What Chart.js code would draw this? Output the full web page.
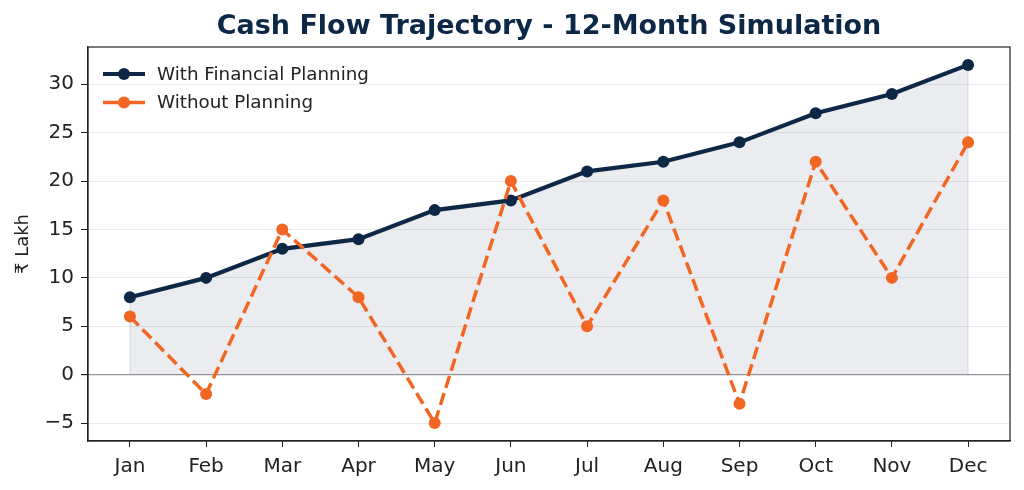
<!DOCTYPE html>
<html>
<head>
<meta charset="utf-8">
<script src="https://cdn.jsdelivr.net/npm/chart.js@4"></script>
<style>
  html, body { margin: 0; padding: 0; background: #fff; }
  #wrap { width: 1024px; height: 490px; position: relative; }
</style>
</head>
<body>
<div id="wrap"><canvas id="cashflow"></canvas></div>
<script>
const months = ['Jan', 'Feb', 'Mar', 'Apr', 'May', 'Jun', 'Jul', 'Aug', 'Sep', 'Oct', 'Nov', 'Dec'];
const withPlanning = [8, 10, 13, 14, 17, 18, 21, 22, 24, 27, 29, 32];
const withoutPlanning = [6, -2, 15, 8, -5, 20, 5, 18, -3, 22, 10, 24];
const yTicks = [-5, 0, 5, 10, 15, 20, 25, 30];

const NAVY = '#0d2847';
const ORANGE = '#f26624';
const FONT = "'DejaVu Sans', sans-serif";

function toPoints(arr) {
    return arr.map((v, i) => ({ x: i, y: v }));
}

// title, box around the plot, fill edges and the legend (matplotlib style)
const decorPlugin = {
    id: 'decor',
    beforeDatasetsDraw(chart) {
        // faint vertical edges of the shaded area at first and last month
        const ctx = chart.ctx;
        const xs = chart.scales.x, ys = chart.scales.y;
        const last = withPlanning.length - 1;
        ctx.save();
        ctx.strokeStyle = 'rgba(13, 40, 71, 0.09)';
        ctx.lineWidth = 1.5;
        [[0, withPlanning[0]], [last, withPlanning[last]]].forEach(([i, v]) => {
            ctx.beginPath();
            ctx.moveTo(xs.getPixelForValue(i), ys.getPixelForValue(0));
            ctx.lineTo(xs.getPixelForValue(i), ys.getPixelForValue(v));
            ctx.stroke();
        });
        ctx.restore();
    },
    afterDraw(chart) {
        const ctx = chart.ctx;
        const a = chart.chartArea;
        ctx.save();
        ctx.strokeStyle = '#222';
        ctx.lineWidth = 1.2;
        ctx.strokeRect(a.left, a.top, a.right - a.left, a.bottom - a.top);

        ctx.fillStyle = NAVY;
        ctx.font = 'bold 27px ' + FONT;
        ctx.textAlign = 'center';
        ctx.textBaseline = 'middle';
        ctx.fillText('Cash Flow Trajectory - 12-Month Simulation', (a.left + a.right) / 2, 27);

        const items = [
            { label: 'With Financial Planning', color: NAVY, width: 4.2 },
            { label: 'Without Planning', color: ORANGE, width: 3.5 }
        ];
        ctx.font = '18.3px ' + FONT;
        ctx.textAlign = 'left';
        items.forEach((it, i) => {
            const y = 74 + i * 28.5;
            ctx.strokeStyle = it.color;
            ctx.lineWidth = it.width;
            ctx.beginPath();
            ctx.moveTo(103, y);
            ctx.lineTo(145, y);
            ctx.stroke();
            ctx.fillStyle = it.color;
            ctx.beginPath();
            ctx.arc(124, y, 6, 0, Math.PI * 2);
            ctx.fill();
            ctx.fillStyle = '#222';
            ctx.fillText(it.label, 157, y + 1);
        });
        ctx.restore();
    }
};

new Chart(document.getElementById('cashflow'), {
    type: 'line',
    data: {
        datasets: [
            {
                label: 'With Financial Planning',
                data: toPoints(withPlanning),
                borderColor: NAVY,
                backgroundColor: 'rgba(13, 40, 71, 0.085)',
                fill: 'origin',
                borderWidth: 4.2,
                pointRadius: 6,
                pointBackgroundColor: NAVY,
                pointBorderWidth: 0,
                tension: 0,
                order: 1
            },
            {
                label: 'Without Planning',
                data: toPoints(withoutPlanning),
                borderColor: ORANGE,
                borderDash: [12.5, 5.5],
                fill: false,
                borderWidth: 3.5,
                pointRadius: 6,
                pointBackgroundColor: ORANGE,
                pointBorderWidth: 0,
                tension: 0,
                order: 0
            }
        ]
    },
    options: {
        responsive: true,
        maintainAspectRatio: false,
        animation: false,
        layout: { padding: { top: 47, right: 14, bottom: 0, left: 0 } },
        plugins: {
            legend: { display: false },
            tooltip: { enabled: false }
        },
        scales: {
            x: {
                type: 'linear',
                min: -0.55,
                max: 11.55,
                afterBuildTicks(scale) {
                    scale.ticks = months.map((m, i) => ({ value: i }));
                },
                afterFit(scale) { scale.height = 49; },
                grid: {
                    drawOnChartArea: false,
                    drawTicks: true,
                    tickLength: 6,
                    tickColor: '#222'
                },
                border: { color: '#222', width: 1.2 },
                ticks: {
                    font: { family: FONT, size: 20 },
                    color: '#222',
                    padding: 8,
                    maxRotation: 0,
                    callback: (v) => months[v]
                }
            },
            y: {
                min: -6.85,
                max: 33.85,
                afterBuildTicks(scale) {
                    scale.ticks = yTicks.map(v => ({ value: v }));
                },
                afterFit(scale) { scale.width = 88; },
                grid: {
                    color: (c) => (c.tick && c.tick.value === 0) ? '#999999' : '#ebebeb',
                    lineWidth: (c) => (c.tick && c.tick.value === 0) ? 1.2 : 1,
                    drawTicks: true,
                    tickLength: 7,
                    tickColor: '#222'
                },
                border: { color: '#222', width: 1.2 },
                ticks: {
                    font: { family: FONT, size: 20 },
                    color: '#222',
                    padding: 7,
                    callback: (v) => v < 0 ? '\u2212' + Math.abs(v) : String(v)
                },
                title: {
                    display: true,
                    text: '₹ Lakh',
                    font: { family: FONT, size: 18 },
                    color: '#222',
                    padding: { top: 13, bottom: 4 }
                }
            }
        }
    },
    plugins: [decorPlugin]
});
</script>
</body>
</html>
